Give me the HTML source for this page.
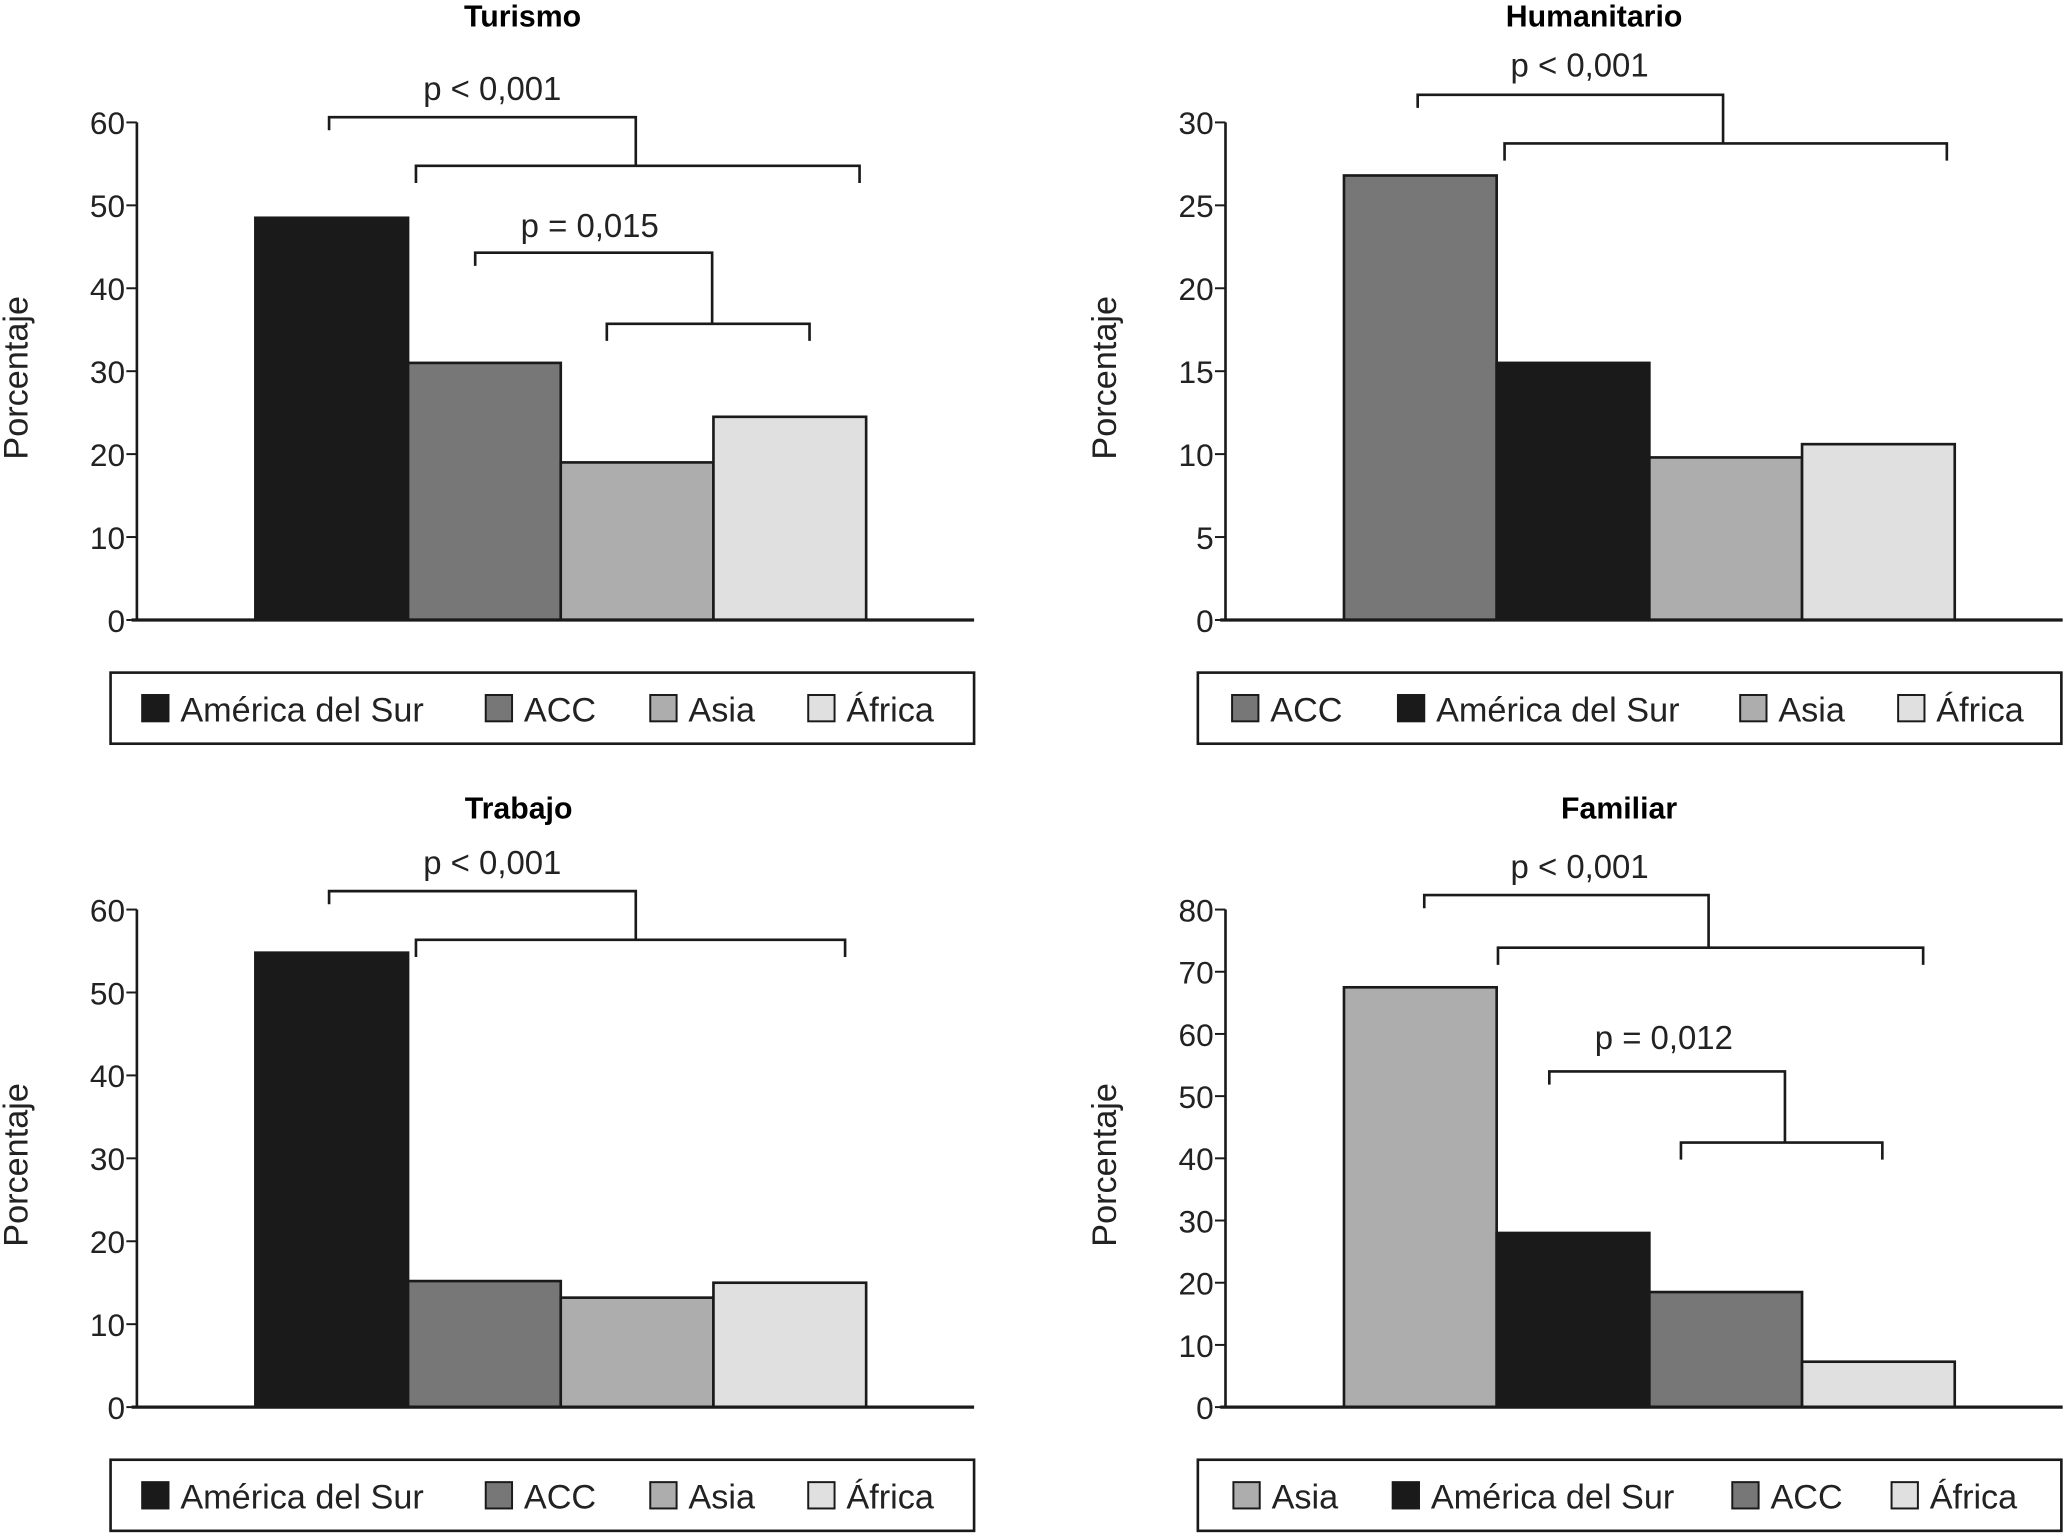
<!DOCTYPE html>
<html><head><meta charset="utf-8"><style>
html,body{margin:0;padding:0;background:#fff;}
svg{display:block;font-family:"Liberation Sans",sans-serif;}
</style></head><body>
<svg id="fig" width="2064" height="1534" viewBox="0 0 1568 1165.4" preserveAspectRatio="none" xmlns="http://www.w3.org/2000/svg"></svg>
<script>
// Data
const turCats = ["América del Sur","ACC","Asia","África"];
const turVals = [48.5, 31, 19, 24.5];
const turTicks = [0,10,20,30,40,50,60];
const humCats = ["ACC","América del Sur","Asia","África"];
const humVals = [26.8, 15.5, 9.8, 10.6];
const humTicks = [0,5,10,15,20,25,30];
const traCats = ["América del Sur","ACC","Asia","África"];
const traVals = [54.8, 15.2, 13.2, 15];
const traTicks = [0,10,20,30,40,50,60];
const famCats = ["Asia","América del Sur","ACC","África"];
const famVals = [67.5, 28, 18.5, 7.3];
const famTicks = [0,10,20,30,40,50,60,70,80];
const colors = {"América del Sur":"#1a1a1a","ACC":"#777777","Asia":"#adadad","África":"#e0e0e0"};

const NS="http://www.w3.org/2000/svg";
const svg=document.getElementById('fig');
function mk(tag,attrs,parent,text){const e=document.createElementNS(NS,tag);for(const k in attrs)e.setAttribute(k,attrs[k]);if(text!==undefined)e.textContent=text;(parent||svg).appendChild(e);return e;}

function panel(o){
  const g=mk('g',{});
  
  
  const ax=o.ax, y0=o.y0, yTop=o.yTop, max=o.ticks[o.ticks.length-1];
  const ys=v=>y0-(v/max)*(y0-yTop);
  const t=mk('text',{x:o.titleX,y:o.titleY,'text-anchor':'middle','font-size':23,'font-weight':'bold'},g,o.title);
  
  
  const yl=mk('text',{x:0,y:0,transform:`translate(${ax-83},${(y0+yTop)/2+5}) rotate(-90)`,'text-anchor':'middle','font-size':26,fill:'#222'},g,'Porcentaje');
  
  
  const bx0=ax+90, bw=116;
  o.cats.forEach((c,i)=>{
    const v=o.vals[i];
    const r=mk('rect',{x:bx0+i*bw,y:ys(v),width:bw,height:y0-ys(v),fill:colors[c],stroke:'#1a1a1a','stroke-width':2},g);
    
    
  });
  const ya=mk('line',{x1:ax,y1:yTop,x2:ax,y2:y0,stroke:'#1a1a1a','stroke-width':2},g);
  
  
  const xa=mk('line',{x1:ax-4,y1:y0,x2:ax+636,y2:y0,stroke:'#1a1a1a','stroke-width':2.5},g);
  
  
  o.ticks.forEach(v=>{
    mk('line',{x1:ax-8,y1:ys(v),x2:ax,y2:ys(v),stroke:'#1a1a1a','stroke-width':1.5},g);
    const tl=mk('text',{x:ax-9,y:ys(v)+9,'text-anchor':'end','font-size':24,fill:'#222'},g,String(v));
    
    
  });
  o.brackets.forEach(b=>{
    const p=`M${b.l1},${b.y1+10} V${b.y1} H${b.m} V${b.y2} M${b.l2},${b.y2+13} V${b.y2} H${b.r2} V${b.y2+13}`;
    const pa=mk('path',{d:p,fill:'none',stroke:'#1a1a1a','stroke-width':2},g);
    
    
    const bt=mk('text',{x:b.tx,y:b.ty,'text-anchor':'middle','font-size':25,fill:'#222'},g,b.label);
    
    
  });
  const lg=mk('g',{},g);
  
  
  mk('rect',{x:o.lx,y:o.ly,width:o.lw,height:54,fill:'#fff',stroke:'#1a1a1a','stroke-width':2},lg);
  o.cats.forEach((c,i)=>{
    const sx=o.legX[i];
    const le=mk('g',{},lg);
    
    
    mk('rect',{x:sx,y:o.ly+17,width:20,height:20,fill:colors[c],stroke:'#1a1a1a','stroke-width':1.5},le);
    mk('text',{x:sx+29,y:o.ly+37,'font-size':26,fill:'#222'},le,c);
  });
}

panel({name:'turismo',title:'Turismo',titleX:397,titleY:20,ax:104,y0:471,yTop:93,cats:turCats,vals:turVals,ticks:turTicks,
  lx:84,ly:511,lw:656,legX:[108,369,494,614],
  brackets:[{l1:250,y1:89,m:483,y2:126,l2:316,r2:653,label:'p < 0,001',tx:374,ty:76},
            {l1:361,y1:192,m:541,y2:246,l2:461,r2:615,label:'p = 0,015',tx:448,ty:180}]});
panel({name:'humanitario',title:'Humanitario',titleX:1211,titleY:20,ax:931,y0:471,yTop:93,cats:humCats,vals:humVals,ticks:humTicks,
  lx:910,ly:511,lw:656,legX:[936,1062,1322,1442],
  brackets:[{l1:1077,y1:72,m:1309,y2:109,l2:1143,r2:1479,label:'p < 0,001',tx:1200,ty:58}]});
panel({name:'trabajo',title:'Trabajo',titleX:394,titleY:622,ax:104,y0:1069,yTop:691,cats:traCats,vals:traVals,ticks:traTicks,
  lx:84,ly:1109,lw:656,legX:[108,369,494,614],
  brackets:[{l1:250,y1:677,m:483,y2:714,l2:316,r2:642,label:'p < 0,001',tx:374,ty:664}]});
panel({name:'familiar',title:'Familiar',titleX:1230,titleY:622,ax:931,y0:1069,yTop:691,cats:famCats,vals:famVals,ticks:famTicks,
  lx:910,ly:1109,lw:656,legX:[937,1058,1316,1437],
  brackets:[{l1:1082,y1:680,m:1298,y2:720,l2:1138,r2:1461,label:'p < 0,001',tx:1200,ty:667},
            {l1:1177,y1:814,m:1356,y2:868,l2:1277,r2:1430,label:'p = 0,012',tx:1264,ty:797}]});
</script>
</body></html>
